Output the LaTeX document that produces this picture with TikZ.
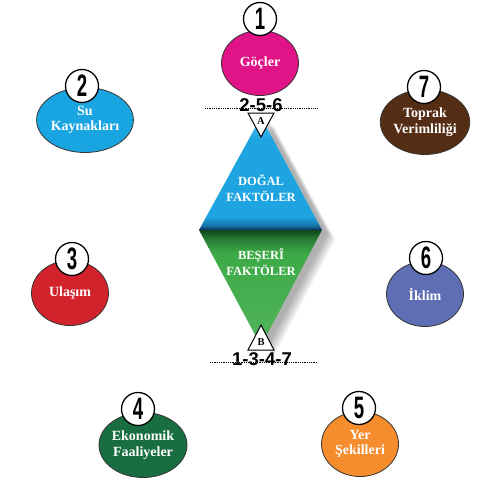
\documentclass[tikz,border=0pt]{standalone}
\usepackage{fontspec}
\setmainfont{Liberation Serif}
\newfontfamily\numfont{Liberation Sans}
\usepackage{graphicx}
\usepackage{xcolor}
\definecolor{cmag}{RGB}{225,20,135}
\definecolor{ccyan}{RGB}{25,165,225}
\definecolor{cbrown}{RGB}{85,45,20}
\definecolor{cred}{RGB}{210,35,45}
\definecolor{cslate}{RGB}{95,110,180}
\definecolor{cgreen}{RGB}{25,110,65}
\definecolor{corange}{RGB}{245,140,45}
\definecolor{dblue}{RGB}{30,165,225}
\definecolor{dbluetop}{RGB}{75,195,240}
\definecolor{dbluedark}{RGB}{10,45,85}
\definecolor{dgreen}{RGB}{60,170,70}
\definecolor{dgreendark}{RGB}{15,70,30}
\usetikzlibrary{shapes.geometric,positioning,calc}
\pgfdeclareverticalshading{doga}{100bp}{color(0bp)=(dbluedark); color(25bp)=(dbluedark); color(27bp)=(dblue!60!dbluedark); color(31bp)=(dblue); color(65bp)=(dblue); color(75bp)=(dbluetop); color(100bp)=(dbluetop)}
\pgfdeclareverticalshading{beseri}{100bp}{color(0bp)=(dgreen!85!white); color(25bp)=(dgreen!88!white); color(65bp)=(dgreen); color(71bp)=(dgreen!55!dgreendark); color(75bp)=(dgreendark); color(100bp)=(dgreendark)}
\newcommand{\numtxt}[1]{\scalebox{0.6}[1]{#1}}

\begin{document}
\begin{tikzpicture}[x=1pt,y=-1pt,
  topic/.style={ellipse,draw=black!80,line width=0.8pt,minimum width=77pt,minimum height=65pt,inner sep=0pt,text=white,align=center,font=\fontsize{14}{15.5}\selectfont\bfseries},
  numc/.style={circle,draw=black,line width=1.3pt,fill=white,minimum size=33pt,inner sep=0pt,font=\numfont\bfseries\fontsize{31}{31}\selectfont},
  seq/.style={font=\numfont\bfseries\fontsize{18.5}{18.5}\selectfont,inner sep=0pt},
  dots/.style={black,line width=0.7pt,dash pattern=on 0.7pt off 1.1pt},
  tri/.style={draw=black,line width=1pt,fill=white,line join=miter},
  tlab/.style={font=\fontsize{10.5}{10.5}\selectfont\bfseries,inner sep=0pt},
  dlab/.style={text=white,align=center,font=\fontsize{12.5}{15.5}\selectfont\bfseries}
]
  \useasboundingbox (0,0) rectangle (480,503);

  % Diamond
  \coordinate (dt) at (261,117);
  \coordinate (dl) at (199,230);
  \coordinate (dr) at (322,230);
  \coordinate (db) at (261,346);
  \foreach \s in {1,...,7}
    \fill[black,opacity=0.05,shift={(4+1.3*\s,2+1.1*\s)}] (261,117) -- (322,230) -- (261,346) -- (199,230) -- cycle;
  \shade[shading=doga] (dt) -- (dr) -- (dl) -- cycle;
  \shade[shading=beseri] (dl) -- (dr) -- (db) -- cycle;
  \node[dlab] (doga) at (261,188) {DOĞAL\\FAKTÖLER};
  \node[dlab] (beseri) at (261,262) {BEŞERÎ\\FAKTÖLER};

  % A and B
  \draw[tri] (248,113) -- (274,113) -- (261,137) -- cycle;
  \node[tlab] (ta) at (261,121) {A};
  \draw[tri] (261,325) -- (274,350) -- (248,350) -- cycle;
  \node[tlab] (tb) at (261,342) {B};
  \draw[dots] (205,108) -- (318,108);
  \node[seq] (topseq) at (261,105) {2-5-6};
  \draw[dots] (210,362) -- (318,362);
  \node[seq] (botseq) at (262,359) {1-3-4-7};

  % Topics
  \node[topic,fill=cmag] (c1) at (260,63) {Göçler};
  \node[numc] (n1) at (260,19) {\numtxt{1}};
  \node[topic,fill=ccyan] (c2) at (85,120) {Su\\Kaynakları};
  \node[numc] (n2) at (82,86) {\numtxt{2}};
  \node[topic,fill=cbrown] (c7) at (425,122) {Toprak\\Verimliliği};
  \node[numc] (n7) at (424,87) {\numtxt{7}};
  \node[topic,fill=cred] (c3) at (70,293) {Ulaşım};
  \node[numc] (n3) at (72,259) {\numtxt{3}};
  \node[topic,fill=cslate] (c6) at (425,294) {İklim};
  \node[numc] (n6) at (426,258) {\numtxt{6}};
  \node[topic,fill=cgreen] (c4) at (143,445) {Ekonomik\\Faaliyeler};
  \node[numc] (n4) at (138,409) {\numtxt{4}};
  \node[topic,fill=corange] (c5) at (360,444) {Yer\\Şekilleri};
  \node[numc] (n5) at (359,408) {\numtxt{5}};
\end{tikzpicture}
\end{document}
